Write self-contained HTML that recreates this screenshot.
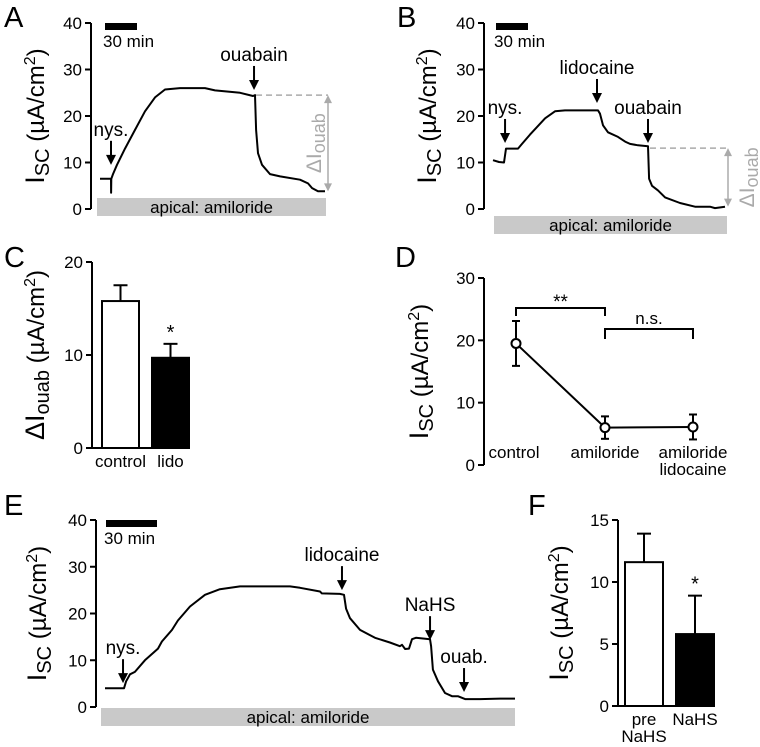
<!DOCTYPE html>
<html><head><meta charset="utf-8"><style>
html,body{margin:0;padding:0;background:#fff}
svg{display:block;font-family:"Liberation Sans",Arial,sans-serif}
</style></head><body>
<svg id="fig" width="760" height="747" viewBox="0 0 760 747" xmlns="http://www.w3.org/2000/svg"></svg>
<script>
// ---- Panel A data ----
const aTimes=[0,10.3,10.4,10.6,12.2,15.9,23.4,32.8,42.2,51.6,60.9,75,98.4,107.8,131.3,143.4,145.3,146.3,148.1,151.9,159.4,168.8,187.5,195,198.8,204.4,210.9];
const aValues=[6.5,6.5,3.5,6.5,7.5,9.5,13,17,21,24,25.7,26,26,25.5,25,24.3,24.5,17,12,9.5,7.5,7,6.3,5.5,4.5,3.8,3.8];
const aEvents=["nys.","ouabain"];
const aEventTimes=[10.3,144.4];
const aEventTips=[9.5,25.6];
// ---- Panel B data ----
const bTimes=[0,5.6,10.3,12.2,23.4,27.2,34.7,48.8,58.1,67.5,98.4,100.3,103.1,107.8,117.2,123.8,128.4,135.9,145.3,146.3,149.1,154.7,161.3,175.3,189.4,203.4,208.1,217.5];
const bValues=[10.5,10.1,10,13,13,14,16,19.5,21,21.2,21.2,20.5,18,16.5,15.5,14.5,14,13.7,13.5,6.5,5,4,2.5,1.3,0.5,0.5,0.2,0.5];
const bEvents=["nys.","lidocaine","ouabain"];
const bEventTimes=[11.3,97.5,145.3];
const bEventTips=[14.2,22.8,14.2];
// ---- Panel E data ----
const eTimes=[0,11.2,12.4,14.7,17.6,23.5,31.2,33.5,39.4,42.9,50,58.8,67.6,79.4,108.8,114.7,126.5,127.6,138.2,140.6,141.8,144.1,150,158.8,167.6,173.5,174.7,176.5,178.8,180.6,182.9,191.2,191.8,192.9,195.9,200,204.1,207.6,211.8,220.6,232.4,241.2];
const eValues=[4,4,5.5,7,7.5,10,12.5,14,16.5,18.5,21.5,24,25.2,25.8,25.8,25.5,24.7,24.3,24.2,24,21,19,16.5,14.8,13.8,13,13.3,12.4,12.5,14.5,14.8,14.5,13,8,5.5,3,2.3,2.3,1.7,1.7,1.8,1.8];
const eEvents=["nys.","lidocaine","NaHS","ouab."];
const eEventTimes=[10.6,139.4,191.2,211.2];
const eEventTips=[5.1,25,14.3,3.2];
// ---- Panel C data ----
const cCategories=["control","lido"];
const cMeans=[15.8,9.7];
const cErrors=[1.7,1.5];
// ---- Panel D data ----
const dCategories=["control","amiloride","amiloride lidocaine"];
const dMeans=[19.5,6.0,6.1];
const dErrors=[3.6,1.8,2.0];
// ---- Panel F data ----
const fCategories=["pre NaHS","NaHS"];
const fMeans=[11.6,5.8];
const fErrors=[2.3,3.1];
const traceTicks=[0,10,20,30,40];

const NS="http://www.w3.org/2000/svg";
const svg=document.getElementById('fig');
function el(tag,attrs,parent,text){const e=document.createElementNS(NS,tag);for(const k in attrs)e.setAttribute(k,attrs[k]);if(text!==undefined)e.textContent=text;(parent||svg).appendChild(e);return e;}
function grp(name){const g=el('g',{});return g;}

function yAxis(g,x,y0,y1,ticks,vmax){
  const a=el('line',{x1:x,y1:y0,x2:x,y2:y1+0,stroke:'#000','stroke-width':2},g);
  
  
  ticks.forEach(t=>{const y=y0-(y0-y1)*t/vmax;
    el('line',{x1:x-6,y1:y,x2:x,y2:y,stroke:'#000','stroke-width':2},g);
    const tx=el('text',{x:x-9,y:y+6,'text-anchor':'end','font-size':17},g,String(t));
    
    
  });
}
function yTitle(g,cx,cy,main,sub){
  const t=el('text',{transform:`translate(${cx},${cy}) rotate(-90)`,'text-anchor':'middle','font-size':24},g);
  
  
  el('tspan',{'font-size':27},t,main);
  el('tspan',{'font-size':20,dy:5},t,sub);
  el('tspan',{dy:-5},t,' (µA/cm');
  el('tspan',{'font-size':16,dy:-9},t,'2');
  el('tspan',{dy:9},t,')');
}
function letter(x,y,s){const t=el('text',{x:x,y:y,'font-size':29},svg,s);}
function arrowDown(g,x,tipY,len){
  el('line',{x1:x,y1:tipY-len,x2:x,y2:tipY-8,stroke:'#000','stroke-width':2},g);
  el('polygon',{points:`${x-5},${tipY-10} ${x+5},${tipY-10} ${x},${tipY}`,fill:'#000'},g);
}

function tracePanel(o){
  const g=grp(o.name);
  const ys=v=>o.y0-(o.y0-o.y1)*v/40;
  const xs=t=>o.x0+t*o.pxPerMin;
  yAxis(g,o.ax,o.y0,o.y1,traceTicks,40);
  yTitle(g,o.titleX,(o.y0+o.y1)/2,'I','SC');
  const sb=el('rect',{x:o.sbX,y:o.y1,width:o.pxPerMin*30,height:7,fill:'#000'},g);
  
  
  el('text',{x:o.sbX-2,y:o.y1+24,'font-size':17},g,'30 min');
  const bar=el('rect',{x:o.barX,y:o.barY,width:o.barW,height:18,fill:'#c9c9c9'},g);
  
  
  el('text',{x:o.barX+o.barW/2,y:o.barY+15,'text-anchor':'middle','font-size':17},g,'apical: amiloride');
  const p=el('path',{d:o.t.map((t,i)=>(i?'L':'M')+xs(t).toFixed(1)+','+ys(o.v[i]).toFixed(1)).join(''),fill:'none',stroke:'#000','stroke-width':2,'stroke-linejoin':'round'},g);
  
  
  o.ev.forEach((e,i)=>{const x=xs(o.et[i]),ty=ys(o.etip[i]);
    arrowDown(g,x,ty,24);
    const lt=el('text',{x:x,y:ty-29,'text-anchor':'middle','font-size':19},g,e);
    
    
  });
  if(o.delta){
    const last=o.v[o.v.length-1];
    const top=o.etip[o.etip.length-1]-1.1;
    const xo=xs(o.et[o.et.length-1])+2;
    el('line',{x1:xo,y1:ys(top),x2:o.dx,y2:ys(top),stroke:'#aaa','stroke-width':1.5,'stroke-dasharray':'6,4'},g);
    const yt=ys(top),yb=ys(last);
    el('line',{x1:o.dx,y1:yt+6,x2:o.dx,y2:yb-6,stroke:'#aaa','stroke-width':1.5},g);
    el('polygon',{points:`${o.dx-4},${yt+8} ${o.dx+4},${yt+8} ${o.dx},${yt}`,fill:'#aaa'},g);
    el('polygon',{points:`${o.dx-4},${yb-8} ${o.dx+4},${yb-8} ${o.dx},${yb}`,fill:'#aaa'},g);
    const dt=el('text',{transform:`translate(${o.dtx},${(yt+yb)/2}) rotate(-90)`,'text-anchor':'middle','font-size':21,fill:'#aaa'},g);
    
    
    el('tspan',{},dt,'ΔI');el('tspan',{'font-size':18,dy:4},dt,'ouab');
  }
}
letter(4,27,'A');letter(397,27,'B');letter(4,267,'C');letter(395,267,'D');letter(4,515,'E');letter(528,515,'F');

tracePanel({name:'panel-a',ax:91,y0:209,y1:23,x0:100,pxPerMin:32/30,t:aTimes,v:aValues,ev:aEvents,et:aEventTimes,etip:aEventTips,titleX:44,sbX:105,barX:97,barY:198,barW:229,delta:true,dx:328,dtx:321});
tracePanel({name:'panel-b',ax:484,y0:209,y1:23,x0:493,pxPerMin:32/30,t:bTimes,v:bValues,ev:bEvents,et:bEventTimes,etip:bEventTips,titleX:436,sbX:496,barX:494,barY:216,barW:233,delta:true,dx:728,dtx:754});
tracePanel({name:'panel-e',ax:96,y0:707,y1:520,x0:105,pxPerMin:51/30,t:eTimes,v:eValues,ev:eEvents,et:eEventTimes,etip:eEventTips,titleX:46,sbX:106,barX:101,barY:708,barW:414,delta:false});

function barPanel(o){
  const g=grp(o.name);
  const ys=v=>o.y0-(o.y0-o.y1)*v/o.vmax;
  yAxis(g,o.ax,o.y0,o.y1,o.ticks,o.vmax);
  el('line',{x1:o.ax,y1:o.y0,x2:o.bx[1]+o.bw,y2:o.y0,stroke:'#000','stroke-width':2},g);
  if(o.dtitle){const t=el('text',{transform:`translate(${o.titleX},${(o.y0+o.y1)/2}) rotate(-90)`,'text-anchor':'middle','font-size':24},g);
    
    el('tspan',{'font-size':27},t,'ΔI');el('tspan',{'font-size':20,dy:5},t,'ouab');el('tspan',{dy:-5},t,' (µA/cm');el('tspan',{'font-size':16,dy:-9},t,'2');el('tspan',{dy:9},t,')');}
  else yTitle(g,o.titleX,(o.y0+o.y1)/2,'I','SC');
  o.means.forEach((m,i)=>{const x=o.bx[i],cx=x+o.bw/2,yt=ys(m),ye=ys(m+o.errs[i]);
    el('line',{x1:cx,y1:yt,x2:cx,y2:ye,stroke:'#000','stroke-width':2},g);
    el('line',{x1:cx-7,y1:ye,x2:cx+7,y2:ye,stroke:'#000','stroke-width':2},g);
    const r=el('rect',{x:x,y:yt,width:o.bw,height:o.y0-yt,fill:i?'#000':'#fff',stroke:'#000','stroke-width':2},g);
    
    
    if(i) el('text',{x:cx,y:ye-5,'text-anchor':'middle','font-size':20},g,'*');
    const parts=o.split?o.cats[i].split(' '):[o.cats[i]];
    parts.forEach((s,j)=>{const lt=el('text',{x:cx,y:o.y0+19+j*17,'text-anchor':'middle','font-size':17},g,s);});
  });
}
barPanel({name:'panel-c',ax:92,y0:448,y1:262,vmax:20,ticks:[0,10,20],bx:[102,152],bw:37,means:cMeans,errs:cErrors,cats:cCategories,titleX:44,dtitle:true,split:false});
barPanel({name:'panel-f',ax:618,y0:706,y1:520,vmax:15,ticks:[0,5,10,15],bx:[625,676],bw:38,means:fMeans,errs:fErrors,cats:[fCategories[0],fCategories[1]],titleX:568,split:true});

// Panel D
(function(){
  const g=grp('panel-d');
  const y0=465,y1=278,vmax=30;const ys=v=>y0-(y0-y1)*v/vmax;
  const px=[516,605,693];
  yAxis(g,484,y0,y1,[0,10,20,30],vmax);
  yTitle(g,428,(y0+y1)/2,'I','SC');
  const ln=el('path',{d:dMeans.map((m,i)=>(i?'L':'M')+px[i]+','+ys(m)).join(''),fill:'none',stroke:'#000','stroke-width':2},g);
  
  
  dMeans.forEach((m,i)=>{const a=ys(m+dErrors[i]),b=ys(m-dErrors[i]);
    el('line',{x1:px[i],y1:a,x2:px[i],y2:b,stroke:'#000','stroke-width':2},g);
    el('line',{x1:px[i]-4,y1:a,x2:px[i]+4,y2:a,stroke:'#000','stroke-width':2},g);
    el('line',{x1:px[i]-4,y1:b,x2:px[i]+4,y2:b,stroke:'#000','stroke-width':2},g);
    const c=el('circle',{cx:px[i],cy:ys(m),r:4.5,fill:'#fff',stroke:'#000','stroke-width':2},g);
    
    
    dCategories[i].split(' ').forEach((s,j)=>{const lt=el('text',{x:px[i]+(i==0?-2:0),y:y0-7+j*17,'text-anchor':'middle','font-size':17},g,s);});
  });
  el('path',{d:`M${px[0]},316 V308 H${px[1]} V316`,fill:'none',stroke:'#000','stroke-width':2},g);
  el('text',{x:(px[0]+px[1])/2,y:308,'text-anchor':'middle','font-size':19},g,'**');
  el('path',{d:`M${px[1]},339 V329 H${px[2]} V339`,fill:'none',stroke:'#000','stroke-width':2},g);
  el('text',{x:(px[1]+px[2])/2,y:324,'text-anchor':'middle','font-size':17},g,'n.s.');
})();
</script>
</body></html>
